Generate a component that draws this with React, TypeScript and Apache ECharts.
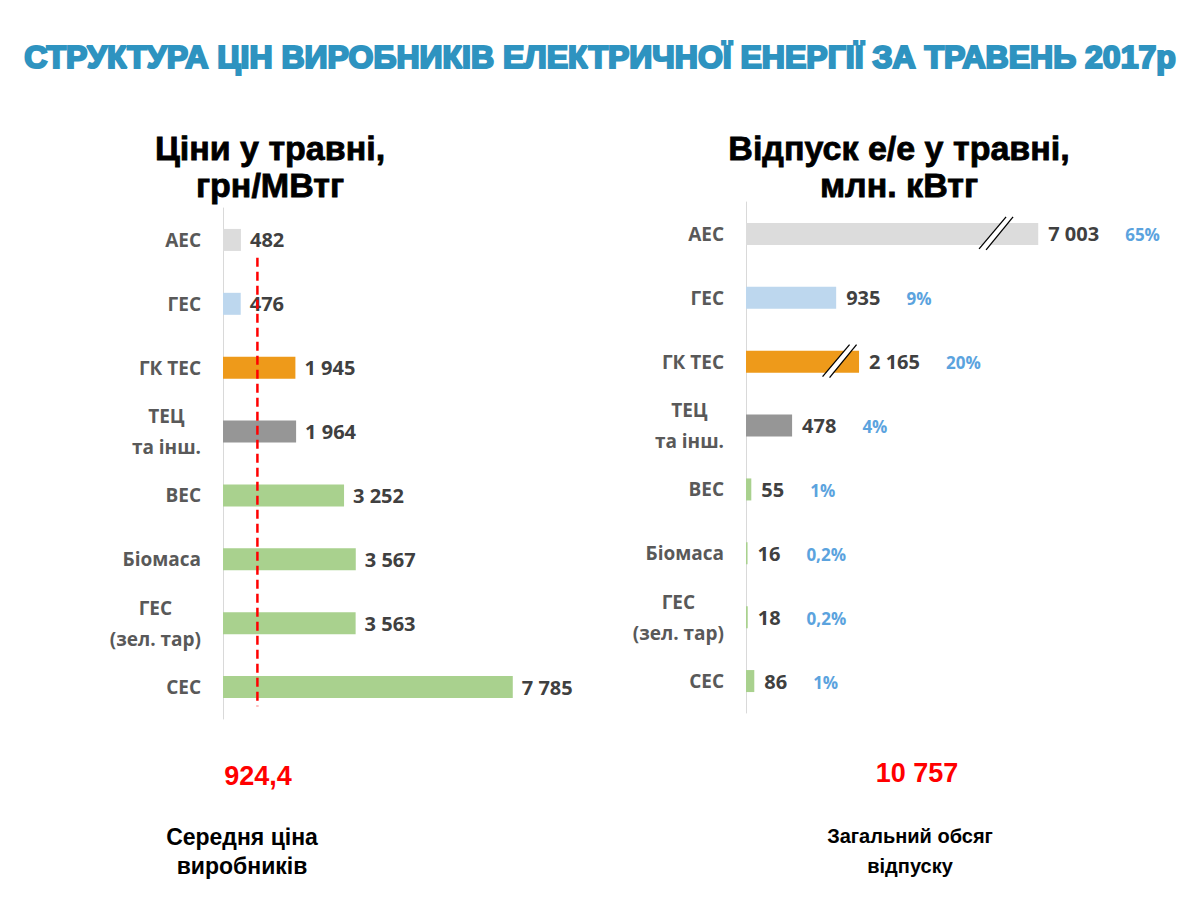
import React, { useEffect, useRef } from "react";
import * as echarts from "echarts";

const categories = ["АЕС", "ГЕС", "ГК ТЕС", "ТЕЦ\nта інш.", "ВЕС", "Біомаса", "ГЕС\n(зел. тар)", "СЕС"];
const prices = [482, 476, 1945, 1964, 3252, 3567, 3563, 7785];
const volumes = [7003, 935, 2165, 478, 55, 16, 18, 86];
// lengths drawn on the broken axis (АЕС and ГК ТЕС are cut)
const volumeShown = [3030, 935, 1172, 478, 55, 16, 18, 86];
const shares = ["65%", "9%", "20%", "4%", "1%", "0,2%", "0,2%", "1%"];
const breakMarks = [
  [2593, 0],
  [970, 2],
];
const avgPrice = 924.4;
const totalVolume = 10757;
const barColors = ["#DCDCDC", "#BDD7EE", "#EE9A1A", "#969696", "#A9D18E", "#A9D18E", "#A9D18E", "#A9D18E"];

const fmt = (v: number) => {
  const [i, d] = String(v).split(".");
  const s = i.replace(/\B(?=(\d{3})+(?!\d))/g, " ");
  return d ? s + "," + d : s;
};

const catLabel = {
  color: "#595959",
  fontWeight: "bold" as const,
  fontSize: 19,
  fontFamily: "Open Sans",
  margin: 22,
  lineHeight: 31,
  formatter: (v: string) =>
    v.includes("\n") ? v.split("\n").map((s) => `{c|${s}}`).join("\n") : v,
  rich: { c: { align: "center" as const, fontSize: 19, fontWeight: "bold" as const, color: "#595959", fontFamily: "Open Sans", lineHeight: 31 } },
};

export default function App() {
  const ref = useRef<HTMLDivElement>(null);
  useEffect(() => {
    document.body.style.margin = "0";
    const chart = echarts.init(ref.current!, null, { renderer: "svg" });
    const txt = (text: string, x: number, y: number, font: string, fill: string, lineHeight = 30, extra: any = {}) => ({
      type: "text",
      x,
      y,
      style: { text, fill, font, textAlign: "center", textVerticalAlign: "middle", lineHeight, ...extra },
    });
    chart.setOption({
      animation: false,
      backgroundColor: "#fff",
      grid: [
        { left: 223, top: 208, width: 335, height: 511 },
        { left: 746, top: 202, width: 434, height: 511 },
      ],
      xAxis: [
        { gridIndex: 0, type: "value", min: 0, max: 9000, show: false },
        { gridIndex: 1, type: "value", min: 0, max: 4500, show: false },
      ],
      yAxis: [
        {
          gridIndex: 0,
          type: "category",
          data: categories,
          inverse: true,
          axisLine: { show: true, lineStyle: { color: "#D9D9D9", width: 1 } },
          axisTick: { show: false },
          splitLine: { show: false },
          axisLabel: catLabel,
        },
        {
          gridIndex: 1,
          type: "category",
          data: categories,
          inverse: true,
          axisLine: { show: true, lineStyle: { color: "#D9D9D9", width: 1 } },
          axisTick: { show: false },
          splitLine: { show: false },
          axisLabel: catLabel,
        },
        { gridIndex: 0, type: "value", min: 0, max: 8, inverse: true, show: false },
      ],
      series: [
        {
          type: "bar",
          xAxisIndex: 0,
          yAxisIndex: 0,
          barWidth: 22,
          data: prices.map((v, i) => ({ value: v, itemStyle: { color: barColors[i] } })),
          label: {
            show: true,
            position: "right",
            distance: 9,
            formatter: (p: any) => fmt(p.value),
            color: "#404040",
            fontWeight: "bold",
            fontSize: 20,
            fontFamily: "Open Sans",
          },
        },
        {
          type: "line",
          xAxisIndex: 0,
          yAxisIndex: 2,
          symbol: "none",
          z: 5,
          data: [
            [avgPrice, 0.78],
            [avgPrice, 7.8],
          ],
          lineStyle: { color: "#FF0000", width: 2.5, type: [9, 5] },
        },
        {
          type: "bar",
          xAxisIndex: 1,
          yAxisIndex: 1,
          barWidth: 22,
          data: volumeShown.map((v, i) => ({ value: v, itemStyle: { color: barColors[i] } })),
          label: {
            show: true,
            position: "right",
            distance: 10,
            formatter: (p: any) => `{v|${fmt(volumes[p.dataIndex])}}{p|${shares[p.dataIndex]}}`,
            rich: {
              v: { color: "#404040", fontWeight: "bold", fontSize: 20, fontFamily: "Open Sans" },
              p: { color: "#5BA3DE", fontWeight: "bold", fontSize: 17, fontFamily: "Open Sans", padding: [2, 0, 0, 26] },
            },
          },
        },
        {
          type: "custom",
          xAxisIndex: 1,
          yAxisIndex: 1,
          z: 6,
          encode: { x: 0, y: 1 },
          data: breakMarks,
          renderItem: (params: any, api: any) => {
            const c = api.coord([api.value(0), api.value(1)]);
            const x = c[0];
            const y = c[1];
            return {
              type: "group",
              children: [
                {
                  type: "polygon",
                  shape: { points: [[x - 17, y + 15], [x + 10, y - 17], [x + 17, y - 17], [x - 10, y + 15]] },
                  style: { fill: "#ffffff" },
                },
                { type: "line", shape: { x1: x - 17, y1: y + 15, x2: x + 10, y2: y - 17 }, style: { stroke: "#000", lineWidth: 1.3 } },
                { type: "line", shape: { x1: x - 10, y1: y + 16, x2: x + 17, y2: y - 17 }, style: { stroke: "#000", lineWidth: 1.3 } },
              ],
            };
          },
        },
      ],
      graphic: [
        txt(
          "СТРУКТУРА ЦІН ВИРОБНИКІВ ЕЛЕКТРИЧНОЇ ЕНЕРГІЇ ЗА ТРАВЕНЬ 2017р",
          600,
          57,
          'bold 32px "Liberation Sans"',
          "#2E93C0",
          34,
          { stroke: "#2E93C0", lineWidth: 2.2 }
        ),
        txt("Ціни у травні,\nгрн/МВтг", 270, 166, 'bold 34px "Liberation Sans"', "#000", 37, { stroke: "#000", lineWidth: 0.8 }),
        txt("Відпуск е/е у травні,\nмлн. кВтг", 899, 166, 'bold 34px "Liberation Sans"', "#000", 37, { stroke: "#000", lineWidth: 0.8 }),
        txt(fmt(avgPrice), 258, 776, 'bold 27px "Liberation Sans"', "#FF0000"),
        txt(fmt(totalVolume), 917, 773, 'bold 27px "Liberation Sans"', "#FF0000"),
        txt("Середня ціна\nвиробників", 242, 851, 'bold 23px "Liberation Sans"', "#000", 29),
        txt("Загальний обсяг\nвідпуску", 910, 851, 'bold 20px "Liberation Sans"', "#000", 30),
      ],
    });
    return () => chart.dispose();
  }, []);
  return <div ref={ref} style={{ width: 1200, height: 900 }} />;
}
